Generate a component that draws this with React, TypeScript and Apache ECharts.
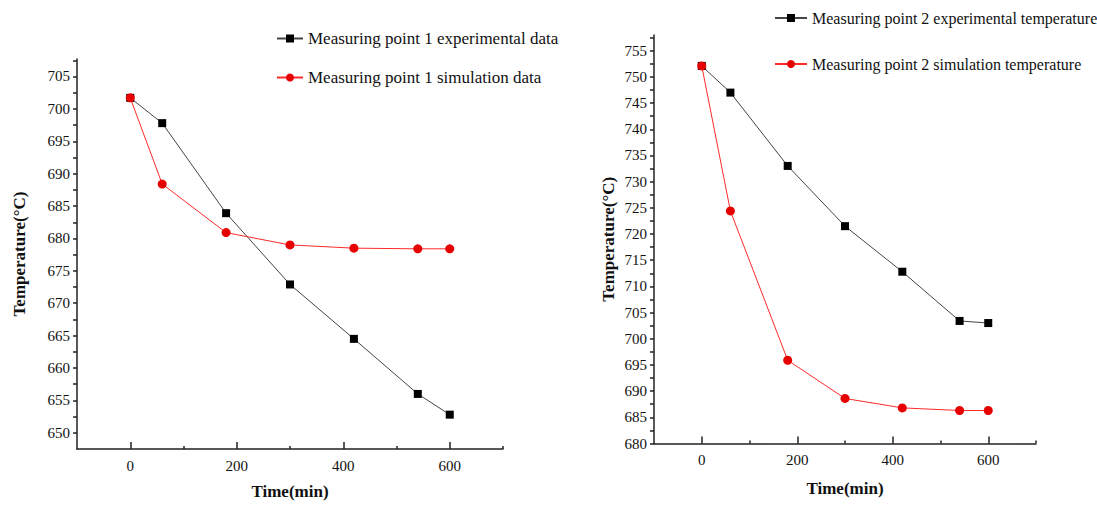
import React, { useEffect, useRef } from "react";
import * as echarts from "echarts";

const times = [0, 60, 180, 300, 420, 540, 600];
const p1Exp = [701.7, 697.8, 683.9, 672.9, 664.5, 656.0, 652.8];
const p1Sim = [701.7, 688.4, 680.9, 679.0, 678.5, 678.4, 678.4];
const p2Exp = [752.1, 747.0, 733.0, 721.5, 712.8, 703.4, 703.0];
const p2Sim = [752.1, 724.4, 695.9, 688.6, 686.8, 686.3, 686.3];

const xLabels = [0, 200, 400, 600];
const xMinor = [100, 300, 500, 700];
const leftYLabels = [650, 655, 660, 665, 670, 675, 680, 685, 690, 695, 700, 705];
const leftYMinor = [652.5, 657.5, 662.5, 667.5, 672.5, 677.5, 682.5, 687.5, 692.5, 697.5, 702.5, 707.5];
const rightYLabels = [680, 685, 690, 695, 700, 705, 710, 715, 720, 725, 730, 735, 740, 745, 750, 755];
const rightYMinor = [682.5, 687.5, 692.5, 697.5, 702.5, 707.5, 712.5, 717.5, 722.5, 727.5, 732.5, 737.5, 742.5, 747.5, 752.5, 757.5];

const names = [
  "Measuring point 1 experimental data",
  "Measuring point 1 simulation data",
  "Measuring point 2 experimental temperature",
  "Measuring point 2 simulation temperature",
];

const FONT = "Liberation Serif";
const AX = "#222";

function mainX(gridIndex: number, nameGap: number) {
  return {
    type: "value",
    gridIndex,
    position: "bottom",
    min: -100,
    max: 700,
    name: "Time(min)",
    nameLocation: "middle",
    nameGap,
    nameTextStyle: { fontFamily: FONT, fontSize: 17, fontWeight: "bold", color: "#111" },
    axisLine: { onZero: false, lineStyle: { color: AX, width: 1.5 } },
    axisTick: { show: true, inside: true, length: 7, customValues: xLabels, lineStyle: { color: AX, width: 1.5 } },
    axisLabel: { customValues: xLabels, margin: 9, fontFamily: FONT, fontSize: 15, color: "#111" },
    splitLine: { show: false },
  };
}
function minorX(gridIndex: number) {
  return {
    type: "value",
    gridIndex,
    position: "bottom",
    min: -100,
    max: 700,
    axisLine: { show: false, onZero: false },
    axisTick: { show: true, inside: true, length: 3, customValues: xMinor, lineStyle: { color: AX, width: 1.5 } },
    axisLabel: { show: false },
    splitLine: { show: false },
  };
}
function mainY(gridIndex: number, min: number, max: number, labels: number[], minor: number[], nameGap: number) {
  return {
    type: "value",
    gridIndex,
    position: "left",
    min,
    max,
    name: "Temperature(°C)",
    nameLocation: "middle",
    nameGap,
    nameRotate: 90,
    nameTextStyle: { fontFamily: FONT, fontSize: 17, fontWeight: "bold", color: "#111" },
    axisLine: { show: true, onZero: false, lineStyle: { color: AX, width: 1.5 } },
    axisTick: { show: true, inside: false, length: 4, customValues: labels.concat(minor), lineStyle: { color: AX, width: 1.5 } },
    axisLabel: { customValues: labels, margin: 7, fontFamily: FONT, fontSize: 15, color: "#111" },
    splitLine: { show: false },
  };
}

function lineSeries(name: string, data: number[], exp: boolean, xAxisIndex: number, yAxisIndex: number) {
  return {
    type: "line",
    name,
    xAxisIndex,
    yAxisIndex,
    data: times.map((t, i) => [t, data[i]]),
    symbol: exp ? "rect" : "circle",
    symbolSize: exp ? 8 : 9,
    itemStyle: { color: exp ? "#000" : "#e60000" },
    lineStyle: { color: exp ? "#444" : "#ff2a2a", width: 1 },
    z: exp ? 2 : 3,
  };
}

export default function App() {
  const ref = useRef<HTMLDivElement>(null);
  useEffect(() => {
    if (!ref.current) return;
    const chart = echarts.init(ref.current, null, { renderer: "svg" });
    chart.setOption({
      animation: false,
      backgroundColor: "#fff",
      grid: [
        { left: 77, right: 594, top: 59, bottom: 56 },
        { left: 654, right: 61, top: 35, bottom: 61.5 },
      ],
      legend: [
        {
          data: [names[0], names[1]],
          orient: "vertical",
          left: 271,
          top: 25,
          itemGap: 22,
          itemWidth: 26,
          itemHeight: 10,
          textStyle: { fontFamily: FONT, fontSize: 17, color: "#111" },
        },
        {
          data: [names[2], names[3]],
          orient: "vertical",
          left: 769,
          top: 5,
          itemGap: 30,
          itemWidth: 32,
          itemHeight: 10,
          textStyle: { fontFamily: FONT, fontSize: 16, color: "#111" },
        },
      ],
      xAxis: [mainX(0, 34), minorX(0), mainX(1, 36), minorX(1)],
      yAxis: [
        mainY(0, 647.5, 707.7, leftYLabels, leftYMinor, 49),
        mainY(1, 680, 758, rightYLabels, rightYMinor, 37),
      ],
      series: [
        lineSeries(names[0], p1Exp, true, 0, 0),
        lineSeries(names[1], p1Sim, false, 0, 0),
        lineSeries(names[2], p2Exp, true, 2, 1),
        lineSeries(names[3], p2Sim, false, 2, 1),
      ],
    });
    return () => chart.dispose();
  }, []);
  return (
    <div
      ref={ref}
      style={{ position: "absolute", left: 0, top: 0, width: 1097, height: 505 }}
    />
  );
}
